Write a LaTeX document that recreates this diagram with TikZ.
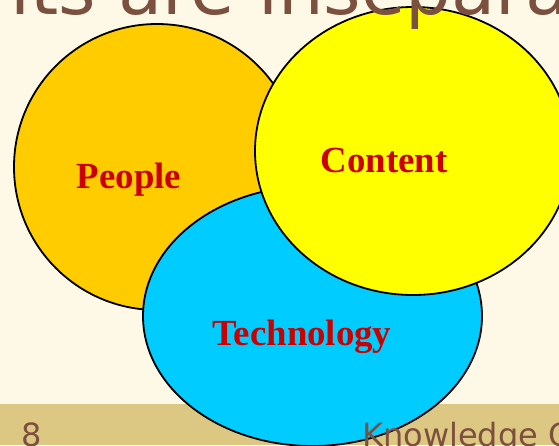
\documentclass[tikz,border=0pt]{standalone}
\usepackage{fontspec}
\setmainfont{Liberation Serif}
\newfontfamily\vfont{DejaVu Sans}
\usetikzlibrary{shapes.geometric}
\definecolor{bgcream}{RGB}{254,249,230}
\definecolor{bandtan}{RGB}{221,200,131}
\definecolor{titlebrown}{RGB}{124,80,62}
\definecolor{cOrange}{RGB}{255,204,0}
\definecolor{cYellow}{RGB}{255,255,0}
\definecolor{cCyan}{RGB}{0,204,255}
\definecolor{lblred}{RGB}{204,0,0}
\tikzset{
  blob/.style={ellipse, draw=black, line width=1.8pt, inner sep=0pt, outer sep=0pt},
  lbl/.style={anchor=base, text=lblred, font=\fontsize{36.8}{37}\selectfont\bfseries, inner sep=0pt},
  slidetxt/.style={anchor=base west, text=titlebrown, inner sep=0pt}
}
\begin{document}
\begin{tikzpicture}[x=1pt,y=-1pt]
\path[use as bounding box] (0,0) rectangle (559,445);
\clip (0,0) rectangle (559,445);
\fill[bgcream] (0,0) rectangle (559,445);
\fill[bandtan] (0,403.5) rectangle (559,445);
\node[blob, fill=cOrange, minimum width=286pt, minimum height=286pt] (people) at (157,167) {};
\node[blob, fill=cCyan, minimum width=339pt, minimum height=260pt] (tech) at (312.5,316) {};
\node[blob, fill=cYellow, minimum width=316pt, minimum height=288pt] (content) at (413,151) {};
\node[lbl] (peoplelbl) at (129,188) {People};
\node[lbl] (contentlbl) at (384,172) {Content};
\node[lbl] (techlbl) at (302,345) {Technology};
\node[slidetxt, font=\vfont\fontsize{72}{72}\selectfont] (title) at (10,14) {its are insepara};
\node[slidetxt, font=\vfont\fontsize{32}{32}\selectfont] (pagenum) at (21,446) {8};
\node[slidetxt, font=\vfont\fontsize{32}{32}\selectfont] (footer) at (362,446) {Knowledge C};
\end{tikzpicture}
\end{document}
